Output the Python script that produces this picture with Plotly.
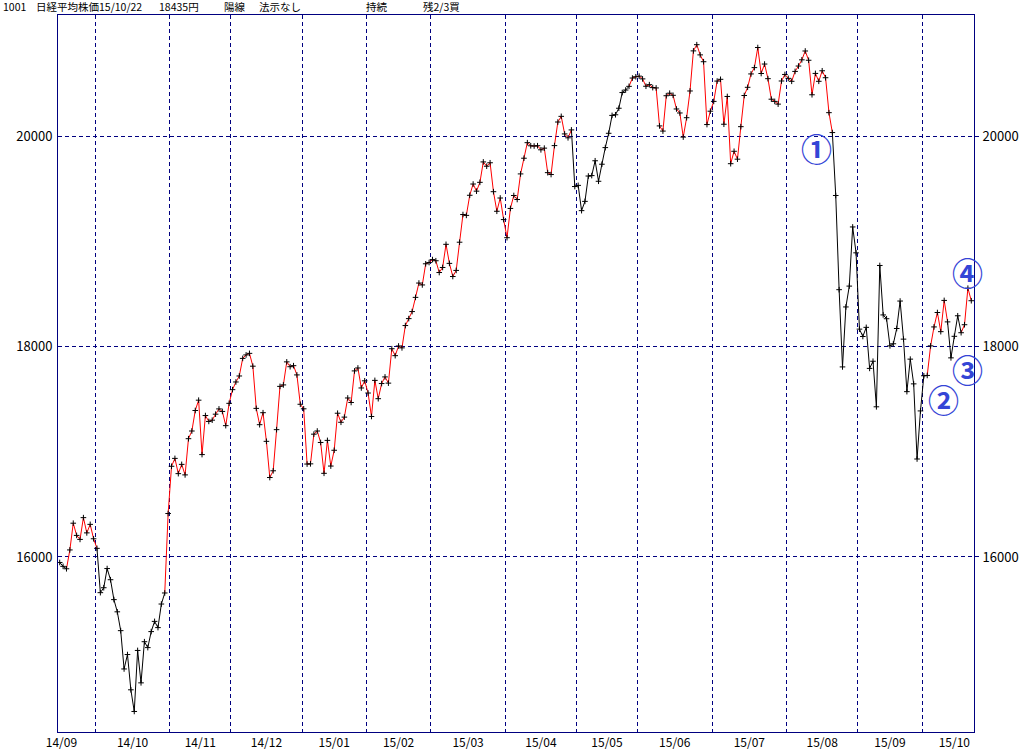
import numpy as np
import plotly.graph_objects as go

# ---------------- data ----------------
month_labels = ["14/09", "14/10", "14/11", "14/12", "15/01", "15/02", "15/03",
                "15/04", "15/05", "15/06", "15/07", "15/08", "15/09", "15/10"]
# trading days shown per month
month_days = [11, 22, 18, 21, 19, 19, 22, 21, 18, 22, 22, 21, 19, 15]
# trading days of the complete first / last month (for label centring)
first_month_full = 20
last_month_full = 21

closes_2014_09 = [15948, 15911, 15888, 16067, 16321, 16205, 16167, 16374, 16229, 16310, 16173]
closes_2014_10 = [16082, 15661, 15708, 15890, 15784, 15595, 15479, 15300, 14936, 15073, 14738,
                  14532, 15112, 14804, 15195, 15139, 15291, 15388, 15329, 15553, 15658, 16413]
closes_2014_11 = [16862, 16937, 16792, 16880, 16780, 17124, 17197, 17392, 17490, 16973, 17344,
                  17288, 17300, 17357, 17407, 17383, 17248, 17460]
closes_2014_12 = [17590, 17663, 17720, 17887, 17920, 17935, 17813, 17412, 17257, 17371, 17099,
                  16755, 16819, 17210, 17621, 17635, 17854, 17808, 17818, 17730, 17451]
closes_2015_01 = [17408, 16883, 16885, 17167, 17197, 17088, 16795, 17108, 16864, 17014, 17366,
                  17280, 17329, 17511, 17468, 17768, 17796, 17606, 17674]
closes_2015_02 = [17558, 17335, 17678, 17504, 17648, 17711, 17652, 17979, 17913, 18005, 17987,
                  18199, 18265, 18332, 18467, 18603, 18585, 18786, 18798]
closes_2015_03 = [18826, 18815, 18703, 18751, 18971, 18790, 18665, 18723, 18991, 19254, 19246,
                  19437, 19544, 19476, 19560, 19754, 19713, 19746, 19471, 19285, 19411, 19206]
closes_2015_04 = [19034, 19312, 19435, 19397, 19640, 19789, 19937, 19907, 19905, 19908, 19869,
                  19885, 19652, 19634, 19909, 20133, 20187, 20020, 19983, 20058, 19520]
closes_2015_05 = [19531, 19291, 19379, 19620, 19624, 19765, 19570, 19732, 19890, 20026, 20196,
                  20202, 20264, 20413, 20437, 20472, 20551, 20563]
closes_2015_06 = [20569, 20543, 20473, 20488, 20460, 20457, 20096, 20047, 20383, 20407, 20387,
                  20257, 20219, 19990, 20174, 20428, 20809, 20868, 20771, 20706, 20109, 20236]
closes_2015_07 = [20329, 20522, 20539, 20112, 20376, 19737, 19855, 19780, 20089, 20385, 20463,
                  20590, 20650, 20841, 20594, 20684, 20545, 20350, 20329, 20303, 20523, 20585]
closes_2015_08 = [20548, 20520, 20614, 20665, 20724, 20808, 20720, 20392, 20595, 20520, 20620,
                  20554, 20222, 20033, 19435, 18540, 17806, 18376, 18574, 19136, 18890]
closes_2015_09 = [18165, 18095, 18182, 17792, 17860, 17427, 18770, 18300, 18264, 18006, 18026,
                  18171, 18432, 18070, 17571, 17880, 17645, 16931, 17388]
closes_2015_10 = [17722, 17725, 18006, 18186, 18323, 18141, 18438, 18234, 17892, 18097, 18292,
                  18131, 18207, 18554, 18435]

# trend signal: trading-day number where the signal changes, and the new state
signal_start_day = [0, 2, 11, 31, 151, 168, 228, 256, 262, 266]
signal_state = ["B", "R", "B", "R", "B", "R", "B", "R", "B", "R"]

y_ticks = [16000, 18000, 20000]

title_parts = ["1001", "日経平均株価", "15/10/22", "18435円", "陽線", "法示なし", "持続", "残2/3買"]
markers_text = ["①", "②", "③", "④"]

# ---------------- build ----------------
closes = (closes_2014_09 + closes_2014_10 + closes_2014_11 + closes_2014_12 + closes_2015_01 +
          closes_2015_02 + closes_2015_03 + closes_2015_04 + closes_2015_05 + closes_2015_06 +
          closes_2015_07 + closes_2015_08 + closes_2015_09 + closes_2015_10)
n = len(closes)
x = list(range(n))

NAVY = "#000080"
RED = "#FF0000"
FONT = "Noto Sans CJK JP"

# segment colours
seg_state = []
for i in range(n - 1):
    st = signal_state[0]
    for d, s in zip(signal_start_day, signal_state):
        if i >= d:
            st = s
    seg_state.append(st)

def segs(state):
    xs, ys = [], []
    for i in range(n - 1):
        if seg_state[i] == state:
            xs += [x[i], x[i + 1], None]
            ys += [closes[i], closes[i + 1], None]
    return xs, ys

bx, by = segs("B")
rx, ry = segs("R")

# month boundaries & label centres
ends = np.cumsum(month_days)
starts = ends - np.array(month_days)
boundaries = [float(s) - 0.5 for s in starts[1:]]
label_pos = []
for k in range(len(month_days)):
    a, b = starts[k] - 0.5, ends[k] - 0.5
    if k == 0:
        a = b - first_month_full
    if k == len(month_days) - 1:
        b = a + last_month_full
    label_pos.append((a + b) / 2)
label_pos[-1] = min(label_pos[-1], n - 6)

x_range = [-0.5, n - 0.2]
y_range = [14337, 21150]

fig = go.Figure()
fig.add_trace(go.Scatter(x=bx, y=by, mode="lines", line=dict(color="black", width=1),
                         hoverinfo="skip", showlegend=False))
fig.add_trace(go.Scatter(x=rx, y=ry, mode="lines", line=dict(color=RED, width=1),
                         hoverinfo="skip", showlegend=False))
fig.add_trace(go.Scatter(x=x, y=closes, mode="markers",
                         marker=dict(symbol="cross-thin", size=4, color="black",
                                     line=dict(color="black", width=1)),
                         showlegend=False))
# invisible trace for right axis
fig.add_trace(go.Scatter(x=[x[0]], y=[closes[0]], yaxis="y2", mode="markers",
                         marker=dict(opacity=0), showlegend=False, hoverinfo="skip"))

W, H = 1032, 749
ML, MR, MT, MB = 58, 58, 15, 17

fig.update_layout(
    width=W, height=H,
    margin=dict(l=ML, r=MR, t=MT, b=MB, autoexpand=False),
    paper_bgcolor="white", plot_bgcolor="white",
    font=dict(family=FONT, size=13, color="black"),
    xaxis=dict(range=x_range, showgrid=False, zeroline=False, automargin=False,
               tickmode="array", tickvals=label_pos, ticktext=month_labels,
               ticks="", ticklabelstandoff=0,
               showline=True, linecolor=NAVY, linewidth=1, mirror=True,
               tickfont=dict(family=FONT, size=12, color="black"),
               minor=dict(tickmode="array", tickvals=boundaries, showgrid=True,
                          gridcolor=NAVY, griddash="4px,3px", gridwidth=1, ticks="")),
    yaxis=dict(range=y_range, tickmode="array", tickvals=y_ticks, automargin=False,
               ticktext=[str(v) for v in y_ticks],
               showgrid=True, gridcolor=NAVY, griddash="4px,3px", gridwidth=1,
               zeroline=False, ticks="", ticklabelstandoff=2,
               showline=True, linecolor=NAVY, linewidth=1, mirror=True,
               tickfont=dict(family=FONT, size=13, color="black")),
    yaxis2=dict(range=y_range, overlaying="y", side="right", tickmode="array",
                automargin=False,
                tickvals=y_ticks, ticktext=[str(v) for v in y_ticks],
                showgrid=False, zeroline=False, ticks="outside", ticklen=4,
                tickcolor=NAVY, ticklabelstandoff=1, showline=False,
                tickfont=dict(family=FONT, size=13, color="black")),
)

# title pieces (pixel x positions)
title_px = [1, 34, 97, 157, 222, 257, 364, 421]
pw = W - ML - MR
ph = H - MT - MB
for t, px in zip(title_parts, title_px):
    fig.add_annotation(text=t, xref="paper", yref="paper",
                       x=(px - ML) / pw, y=(H - MB - 7) / ph,
                       xanchor="left", yanchor="middle", showarrow=False,
                       font=dict(family=FONT, size=10.5, color="black"))

# circled number annotations (pixel centres)
circ_px = [(816, 147), (943, 398), (967, 369), (967, 271)]
for t, (px, py) in zip(markers_text, circ_px):
    fig.add_annotation(text="<b>" + t + "</b>", xref="paper", yref="paper",
                       x=(px - ML) / pw, y=(H - MB - py) / ph,
                       xanchor="center", yanchor="middle", showarrow=False,
                       font=dict(family=FONT, size=31, color="#3445D6"))

fig.write_html("out.html", config={"displayModeBar": False},
               post_script="document.body.style.margin='0px';document.body.style.overflow='hidden';")
